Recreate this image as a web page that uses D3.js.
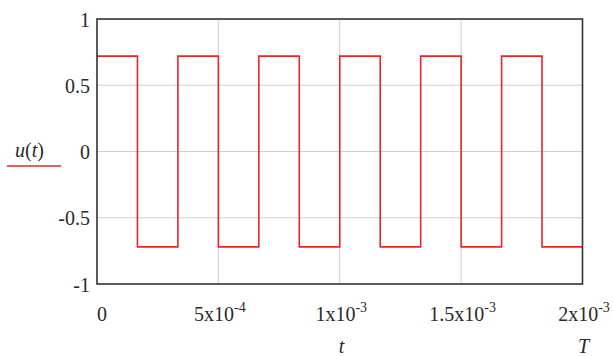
<!DOCTYPE html>
<html>
<head>
<meta charset="utf-8">
<script src="https://cdn.jsdelivr.net/npm/d3@7"></script>
<style>
  html, body { margin: 0; padding: 0; background: #fff; }
  svg { display: block; }
</style>
</head>
<body>
<svg id="chart" width="613" height="356"></svg>
<script>
// ---- data ----
const switchTimes = [0, 0.0001667, 0.0003333, 0.0005, 0.0006667, 0.0008333, 0.001,
                     0.0011667, 0.0013333, 0.0015, 0.0016667, 0.0018333];
const levels = [0.72, -0.72, 0.72, -0.72, 0.72, -0.72, 0.72, -0.72, 0.72, -0.72, 0.72, -0.72];
const tEnd = 0.002;
const xTicks = [0, 0.0005, 0.001, 0.0015, 0.002];
const xTickMant = ["0", "5x10", "1x10", "1.5x10", "2x10"];
const xTickExp = ["", "-4", "-3", "-3", "-3"];
const yTicks = [1, 0.5, 0, -0.5, -1];
const yTickLabels = ["1", "0.5", "0", "-0.5", "-1"];
const yGrid = [0.5, 0, -0.5];
const xGrid = [0.0005, 0.001, 0.0015];

// ---- layout ----
const svg = d3.select("#chart");
const L = 97, R = 582.5, T = 19, B = 284;
const xs = d3.scaleLinear().domain([0, 0.002]).range([L, R]);
const ys = d3.scaleLinear().domain([-1, 1]).range([B, T]);

function label(sel, size, italic) {
  return sel.style("font", (italic ? "italic " : "") + size + "px 'Liberation Serif'")
    .attr("fill", "#2a2a2a");
}

// grid
svg.append("g").selectAll("line").data(yGrid).join("line")
  .attr("x1", L).attr("x2", R).attr("y1", d => ys(d)).attr("y2", d => ys(d))
  .attr("stroke", "#cfcfcf").attr("stroke-width", 1);
svg.append("g").selectAll("line").data(xGrid).join("line")
  .attr("y1", T).attr("y2", B).attr("x1", d => xs(d)).attr("x2", d => xs(d))
  .attr("stroke", "#cfcfcf").attr("stroke-width", 1);

// series
const pts = switchTimes.map((t, i) => [t, levels[i]]);
pts.push([tEnd, levels[levels.length - 1]]);
const stepLine = d3.line().x(d => xs(d[0])).y(d => ys(d[1])).curve(d3.curveStepAfter);
svg.append("path").datum(pts).attr("d", stepLine)
  .attr("fill", "none").attr("stroke", "#e8262a").attr("stroke-width", 1.6);

// frame
svg.append("rect").attr("x", L).attr("y", T).attr("width", R - L).attr("height", B - T)
  .attr("fill", "none").attr("stroke", "#333").attr("stroke-width", 1.6);

// y tick labels
label(svg.append("g").selectAll("text").data(yTicks).join("text"), 20, false)
  .attr("x", 90).attr("y", d => ys(d) + 7.5)
  .attr("text-anchor", "end")
  .text((d, i) => yTickLabels[i]);

// x tick labels
const xl = label(svg.append("g").selectAll("text").data(xTicks).join("text"), 20, false)
  .attr("x", (d, i) => i === 0 ? xs(d) : xs(d) + 1.5)
  .attr("y", 321)
  .attr("text-anchor", (d, i) => i === 0 ? "start" : "middle");
xl.append("tspan").text((d, i) => xTickMant[i]);
xl.append("tspan").style("font-size", "14px").attr("dy", -9).text((d, i) => xTickExp[i]);

// axis variable labels
label(svg.append("text"), 20, true).attr("x", 341.5).attr("y", 353)
  .attr("text-anchor", "middle").text("t");
label(svg.append("text"), 20, true).attr("x", 583.5).attr("y", 353)
  .attr("text-anchor", "middle").text("T");

// legend
const lg = label(svg.append("text"), 20, false).attr("x", 15).attr("y", 157);
lg.append("tspan").style("font-style", "italic").text("u");
lg.append("tspan").text("(");
lg.append("tspan").style("font-style", "italic").text("t");
lg.append("tspan").text(")");
svg.append("line").attr("x1", 7).attr("x2", 61).attr("y1", 166).attr("y2", 166)
  .attr("stroke", "#e8262a").attr("stroke-width", 1.6);
</script>
</body>
</html>
